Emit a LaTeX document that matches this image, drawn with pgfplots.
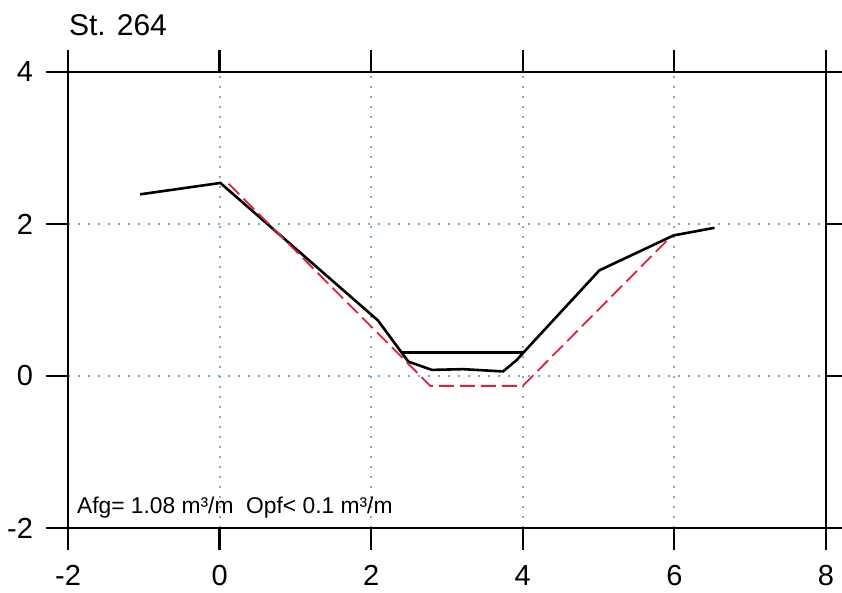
\documentclass[border=0pt]{standalone}
\usepackage{fontspec}
\setmainfont{Liberation Sans}
\usepackage{pgfplots}
\pgfplotsset{compat=1.18}
\definecolor{gridblue}{RGB}{120,170,205}
\definecolor{profred}{RGB}{220,35,60}

\begin{document}
\begin{tikzpicture}
\clip (-34pt,-32.5pt) rectangle (387pt,264pt);
\begin{axis}[
    scale only axis,
    width=379pt, height=228pt,
    xmin=-2, xmax=8, ymin=-2, ymax=4,
    xtick={-2,0,2,4,6,8},
    xticklabels={-2,0,2,4,6,8},
    ytick={-2,0,2,4},
    yticklabels={-2,0,2,4},
    tick align=outside,
    major tick length=11pt,
    tick style={black, line width=1.1pt},
    axis line style={line width=1.1pt},
    tick label style={font=\fontsize{14.5}{16}\selectfont},
    xticklabel style={yshift=-4pt},
    yticklabel style={xshift=-3pt},
    grid=major,
    major grid style={gridblue, line width=1pt, dash pattern=on 0.9pt off 4.1pt},
    clip=false,
]
% survey profile
\addplot[black, line width=1.3pt] coordinates {
(-1.05,2.39) (0.01,2.54) (2.09,0.73) (2.40,0.31) (2.49,0.19) (2.80,0.08)
(3.21,0.09) (3.74,0.06) (3.92,0.21) (4.01,0.31) (5.01,1.39) (5.99,1.85) (6.53,1.95)
};
% level line
\addplot[black, line width=1.1pt] coordinates {(2.40,0.31) (4.01,0.31)};
% design profile
\addplot[profred, line width=0.9pt, dash pattern=on 7.5pt off 3pt] coordinates {
(0.12,2.53) (2.78,-0.13) (4.00,-0.13) (5.92,1.80)
};
\node[anchor=base west, font=\fontsize{15}{17}\selectfont]
  at (rel axis cs:0,1) [xshift=-3pt, yshift=18.5pt] {St. 264};
\node[anchor=base west, font=\fontsize{11.4}{13}\selectfont]
  at (rel axis cs:0,0) [xshift=1pt, yshift=7pt] {Afg= 1.08 m³/m\ \ Opf< 0.1 m³/m};
\end{axis}
\end{tikzpicture}
\end{document}
